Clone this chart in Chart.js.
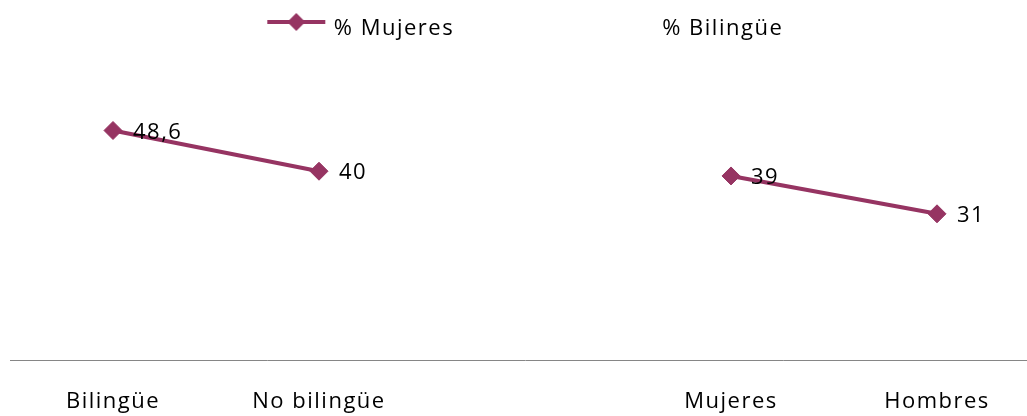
<!DOCTYPE html>
<html>
<head>
<meta charset="utf-8">
<script src="https://cdn.jsdelivr.net/npm/chart.js@4/dist/chart.umd.min.js"></script>
<style>
  html, body { margin: 0; padding: 0; background: #fff; overflow: hidden; }
  #wrap { position: absolute; left: 0; top: -26px; width: 1050px; height: 469px; }
</style>
</head>
<body>
<div id="wrap"><canvas id="chart"></canvas></div>
<script>
const categories = ['Bilingüe', 'No bilingüe', '', 'Mujeres', 'Hombres']
const mujeresPct = [48.6, 40, null, null, null]
const bilinguePct = [null, null, null, 39, 31]
const seriesNames = ['% Mujeres', '% Bilingüe']

const plum = '#963462'

// legend key: line with a diamond, drawn a bit above the text middle
function makeKey(show) {
  const c = document.createElement('canvas')
  c.width = 80
  c.height = 40
  if (!show) return c
  const g = c.getContext('2d')
  const cx = 40, cy = 13
  g.strokeStyle = plum
  g.lineWidth = 4
  g.beginPath()
  g.moveTo(cx - 31, cy)
  g.lineTo(cx + 27, cy)
  g.stroke()
  g.fillStyle = plum
  g.beginPath()
  g.moveTo(cx - 2, cy - 9)
  g.lineTo(cx + 7, cy)
  g.lineTo(cx - 2, cy + 9)
  g.lineTo(cx - 11, cy)
  g.closePath()
  g.fill()
  return c
}
const keyLine = makeKey(true)
const keyBlank = makeKey(false)

const spacing = {
  id: 'spacing',
  beforeUpdate(chart) { chart.ctx.letterSpacing = '1.5px' },
  beforeLayout(chart) { chart.ctx.letterSpacing = '1.5px' },
  beforeDraw(chart) { chart.ctx.letterSpacing = '1.5px' },
}

const valueLabels = {
  id: 'valueLabels',
  afterDatasetsDraw(chart) {
    const ctx = chart.ctx
    ctx.save()
    ctx.font = '22px "Open Sans"'
    ctx.fillStyle = '#000'
    ctx.textAlign = 'left'
    ctx.textBaseline = 'middle'
    chart.data.datasets.forEach((ds, i) => {
      chart.getDatasetMeta(i).data.forEach((pt, j) => {
        const v = ds.data[j]
        if (v === null) return
        ctx.fillText(String(v).replace('.', ','), pt.x + 20, pt.y + 2)
      })
    })
    ctx.restore()
  },
}

Chart.defaults.font.family = '"Open Sans"'
Chart.defaults.font.size = 22
Chart.defaults.color = '#000'

const lineStyle = {
  borderColor: plum,
  backgroundColor: plum,
  borderWidth: 4,
  pointStyle: 'rectRot',
  pointRadius: 9,
  pointBorderWidth: 1,
  pointBackgroundColor: plum,
  pointBorderColor: plum,
  spanGaps: false,
}

new Chart(document.getElementById('chart'), {
  type: 'line',
  data: {
    labels: categories,
    datasets: [
      { label: seriesNames[0], data: mujeresPct, ...lineStyle },
      { label: seriesNames[1], data: bilinguePct, ...lineStyle },
    ],
  },
  options: {
    responsive: true,
    maintainAspectRatio: false,
    animation: false,
    layout: { padding: { left: 8, right: 1, top: 0, bottom: 0 } },
    plugins: {
      tooltip: { enabled: false },
      legend: {
        position: 'top',
        labels: {
          usePointStyle: true,
          pointStyleWidth: 49,
          padding: 44,
          color: '#000',
          font: { size: 22 },
          generateLabels: () => [
            { text: seriesNames[0], pointStyle: keyLine, datasetIndex: 0, lineWidth: 0, hidden: false },
            { text: '', pointStyle: keyBlank, lineWidth: 0, hidden: false },
            { text: seriesNames[1], pointStyle: keyBlank, datasetIndex: 1, lineWidth: 0, hidden: false },
          ],
        },
      },
    },
    scales: {
      x: {
        offset: true,
        grid: { display: false, drawTicks: false, offset: true },
        border: { display: true, color: '#868686', width: 1 },
        ticks: { autoSkip: false, maxRotation: 0, padding: 28, color: '#000' },
      },
      y: {
        display: false,
        min: 0,
        max: 65.6,
      },
    },
  },
  plugins: [spacing, valueLabels],
})
</script>
</body>
</html>
